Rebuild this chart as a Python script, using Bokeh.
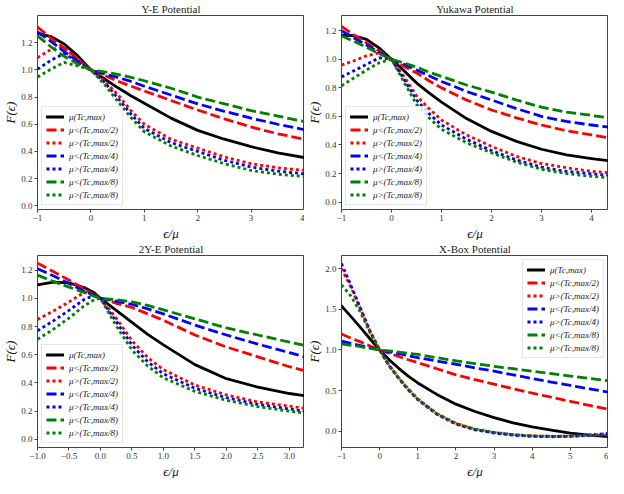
from bokeh.plotting import figure
from bokeh.layouts import column, row
from bokeh.models import Legend, LegendItem, FixedTicker, CustomJSTickFormatter, Range1d, Title
from bokeh.embed import file_html
from bokeh.resources import INLINE

LABELS = ["μ(Tc,max)", "μ<(Tc,max/2)", "μ>(Tc,max/2)", "μ<(Tc,max/4)",
          "μ>(Tc,max/4)", "μ<(Tc,max/8)", "μ>(Tc,max/8)"]
COLORS = ["black", "#ff0000", "#ff0000", "#0000ff", "#0000ff", "#008000", "#008000"]
DASHES = ["solid", "10 4", "3 3", "10 4", "3 3", "10 4", "3 3"]

# ---- Y-E Potential ----
ye_x = [-1, -0.75, -0.5, -0.25, 0, 0.25, 0.5, 0.75, 1, 1.5, 2, 2.5, 3, 3.5, 4]
ye_mu = [1.27, 1.245, 1.19, 1.105, 1.0, 0.935, 0.87, 0.81, 0.755, 0.645, 0.555, 0.49, 0.435, 0.39, 0.355]
ye_lt2 = [1.315, 1.235, 1.16, 1.08, 1.0, 0.96, 0.918, 0.88, 0.845, 0.775, 0.705, 0.64, 0.58, 0.53, 0.49]
ye_gt2 = [1.09, 1.15, 1.165, 1.08, 1.0, 0.92, 0.82, 0.70, 0.60, 0.49, 0.425, 0.36, 0.31, 0.28, 0.26]
ye_lt4 = [1.28, 1.21, 1.135, 1.065, 1.0, 0.97, 0.945, 0.915, 0.88, 0.815, 0.75, 0.695, 0.645, 0.60, 0.56]
ye_gt4 = [1.005, 1.07, 1.12, 1.06, 1.0, 0.91, 0.795, 0.675, 0.57, 0.465, 0.40, 0.335, 0.285, 0.255, 0.235]
ye_lt8 = [1.25, 1.17, 1.10, 1.045, 1.0, 0.985, 0.967, 0.945, 0.92, 0.865, 0.80, 0.75, 0.70, 0.66, 0.62]
ye_gt8 = [0.948, 1.005, 1.055, 1.03, 1.0, 0.895, 0.77, 0.65, 0.545, 0.44, 0.37, 0.31, 0.26, 0.233, 0.215]

# ---- Yukawa Potential ----
yk_x = [-1, -0.75, -0.5, -0.25, 0, 0.25, 0.5, 0.75, 1, 1.5, 2, 2.5, 3, 3.5, 4, 4.35]
yk_mu = [1.17, 1.165, 1.14, 1.08, 1.0, 0.92, 0.835, 0.765, 0.70, 0.585, 0.495, 0.425, 0.37, 0.33, 0.305, 0.29]
yk_lt2 = [1.23, 1.17, 1.115, 1.06, 1.0, 0.95, 0.905, 0.85, 0.80, 0.715, 0.645, 0.59, 0.54, 0.50, 0.47, 0.45]
yk_gt2 = [0.96, 0.99, 1.025, 1.045, 1.0, 0.88, 0.745, 0.655, 0.575, 0.47, 0.39, 0.32, 0.27, 0.24, 0.215, 0.205]
yk_lt4 = [1.20, 1.15, 1.10, 1.05, 1.0, 0.965, 0.925, 0.885, 0.845, 0.775, 0.715, 0.655, 0.60, 0.565, 0.54, 0.525]
yk_gt4 = [0.877, 0.92, 0.965, 1.01, 1.0, 0.86, 0.715, 0.62, 0.54, 0.44, 0.36, 0.295, 0.245, 0.215, 0.198, 0.187]
yk_lt8 = [1.165, 1.125, 1.085, 1.04, 1.0, 0.975, 0.945, 0.91, 0.88, 0.82, 0.77, 0.715, 0.665, 0.63, 0.607, 0.59]
yk_gt8 = [0.815, 0.87, 0.925, 0.975, 1.0, 0.84, 0.685, 0.59, 0.51, 0.415, 0.345, 0.28, 0.23, 0.20, 0.18, 0.17]

# ---- 2Y-E Potential ----
ty_x = [-1, -0.75, -0.5, -0.25, -0.1, 0, 0.25, 0.5, 0.75, 1, 1.5, 2, 2.5, 3, 3.24]
ty_mu = [1.095, 1.115, 1.11, 1.075, 1.04, 1.0, 0.915, 0.83, 0.745, 0.67, 0.53, 0.43, 0.37, 0.325, 0.31]
ty_lt2 = [1.25, 1.19, 1.13, 1.065, 1.025, 1.0, 0.965, 0.935, 0.89, 0.845, 0.74, 0.655, 0.585, 0.515, 0.487]
ty_gt2 = [0.85, 0.91, 0.975, 1.045, 1.03, 1.0, 0.86, 0.70, 0.58, 0.494, 0.385, 0.315, 0.265, 0.235, 0.22]
ty_lt4 = [1.21, 1.16, 1.105, 1.05, 1.02, 1.0, 0.98, 0.957, 0.925, 0.89, 0.81, 0.74, 0.675, 0.615, 0.585]
ty_gt4 = [0.77, 0.84, 0.915, 0.995, 1.02, 1.0, 0.835, 0.668, 0.55, 0.464, 0.362, 0.295, 0.248, 0.215, 0.20]
ty_lt8 = [1.165, 1.12, 1.08, 1.04, 1.015, 1.0, 0.99, 0.975, 0.95, 0.918, 0.855, 0.79, 0.74, 0.69, 0.667]
ty_gt8 = [0.71, 0.78, 0.86, 0.95, 0.99, 1.0, 0.805, 0.633, 0.52, 0.436, 0.34, 0.277, 0.232, 0.20, 0.186]

# ---- X-Box Potential ----
xb_x = [-1, -0.75, -0.5, -0.25, 0, 0.25, 0.5, 0.75, 1, 1.5, 2, 2.5, 3, 3.5, 4, 4.5, 5, 5.5, 6]
xb_mu = [1.54, 1.41, 1.275, 1.135, 1.0, 0.88, 0.775, 0.68, 0.595, 0.455, 0.335, 0.245, 0.17, 0.105, 0.055, 0.015, -0.02, -0.045, -0.065]
xb_lt2 = [1.196, 1.145, 1.10, 1.05, 1.0, 0.96, 0.92, 0.88, 0.845, 0.77, 0.695, 0.635, 0.58, 0.525, 0.47, 0.42, 0.37, 0.32, 0.273]
xb_gt2 = [2.00, 1.77, 1.50, 1.225, 1.0, 0.81, 0.655, 0.515, 0.395, 0.215, 0.095, 0.025, -0.015, -0.04, -0.055, -0.06, -0.058, -0.05, -0.04]
xb_lt4 = [1.108, 1.08, 1.055, 1.027, 1.0, 0.978, 0.955, 0.93, 0.905, 0.865, 0.825, 0.78, 0.74, 0.695, 0.65, 0.607, 0.565, 0.523, 0.482]
xb_gt4 = [2.06, 1.79, 1.51, 1.23, 1.0, 0.805, 0.65, 0.51, 0.39, 0.21, 0.09, 0.02, -0.02, -0.045, -0.06, -0.065, -0.06, -0.045, -0.025]
xb_lt8 = [1.076, 1.057, 1.04, 1.02, 1.0, 0.988, 0.975, 0.96, 0.945, 0.905, 0.867, 0.833, 0.80, 0.77, 0.74, 0.71, 0.68, 0.65, 0.622]
xb_gt8 = [1.80, 1.66, 1.46, 1.21, 1.0, 0.815, 0.66, 0.525, 0.40, 0.22, 0.10, 0.03, -0.01, -0.04, -0.055, -0.06, -0.058, -0.045, -0.03]

FONT = "Liberation Serif"


def fmt(d):
    return CustomJSTickFormatter(code="return tick.toFixed(%d).replace('-', '\u2212');" % d)


def panel(title, x, ys, xr, yr, xticks, xd, yticks, yd, loc, bl, h):
    p = figure(width=304, height=h, title=title,
               x_range=Range1d(*xr), y_range=Range1d(*yr),
               output_backend="svg", toolbar_location=None,
               min_border_left=bl, min_border_right=0,
               min_border_top=0, min_border_bottom=0)
    p.title.align = "center"
    p.title.text_font = FONT
    p.title.text_font_size = "11px"
    p.title.text_font_style = "normal"
    p.title.text_color = "#222222"
    p.title.standoff = 1
    p.title.offset = 0
    p.grid.visible = False
    p.outline_line_color = "#444444"
    p.outline_line_width = 1
    for ax in (p.xaxis[0], p.yaxis[0]):
        ax.axis_line_color = None
        ax.major_tick_out = 3
        ax.major_tick_in = 0
        ax.minor_tick_line_color = None
        ax.major_tick_line_color = "#444444"
        ax.major_label_text_font = FONT
        ax.major_label_text_font_size = "9px"
        ax.major_label_text_color = "#333333"
        ax.major_label_standoff = 2
    p.xaxis.ticker = FixedTicker(ticks=xticks)
    p.yaxis.ticker = FixedTicker(ticks=yticks)
    p.xaxis.formatter = fmt(xd)
    p.yaxis.formatter = fmt(yd)
    ya = p.yaxis[0]
    ya.axis_label = "F(ϵ)"
    ya.axis_label_text_font = FONT
    ya.axis_label_text_font_size = "13px"
    ya.axis_label_text_font_style = "italic"
    ya.axis_label_text_color = "#111111"
    ya.axis_label_standoff = 0
    xl = Title(text="ϵ/μ", align="center", text_font=FONT, text_font_size="13px",
               text_font_style="italic", text_color="#111111", standoff=0, offset=0)
    p.add_layout(xl, "below")
    items = []
    for lab, col, dash, y in zip(LABELS, COLORS, DASHES, ys):
        r = p.line(x, y, line_color=col, line_width=2.8, line_dash=dash,
                   line_cap="butt" if dash != "solid" else "round",
                   line_join="round")
        items.append(LegendItem(label=lab, renderers=[r]))
    lg = Legend(items=items, location=loc)
    lg.label_text_font = FONT
    lg.label_text_font_size = "9px"
    lg.label_text_font_style = "italic"
    lg.label_text_color = "#222222"
    lg.glyph_width = 18
    lg.glyph_height = 11
    lg.label_height = 11
    lg.label_standoff = 5
    lg.spacing = 2
    lg.padding = 4
    lg.margin = 4
    lg.border_line_color = "#cccccc"
    lg.background_fill_alpha = 0.85
    p.add_layout(lg)
    return p


yt12 = [0.0, 0.2, 0.4, 0.6, 0.8, 1.0, 1.2]
p1 = panel("Y-E Potential", ye_x, [ye_mu, ye_lt2, ye_gt2, ye_lt4, ye_gt4, ye_lt8, ye_gt8],
           (-1, 4), (-0.027, 1.40), [-1, 0, 1, 2, 3, 4], 0, yt12, 1, "bottom_left", 26, 240)
p2 = panel("Yukawa Potential", yk_x, [yk_mu, yk_lt2, yk_gt2, yk_lt4, yk_gt4, yk_lt8, yk_gt8],
           (-1, 4.34), (-0.052, 1.307), [-1, 0, 1, 2, 3, 4], 0, yt12, 1, "bottom_left", 34, 240)
p3 = panel("2Y-E Potential", ty_x, [ty_mu, ty_lt2, ty_gt2, ty_lt4, ty_gt4, ty_lt8, ty_gt8],
           (-1, 3.24), (-0.058, 1.304), [-1.0, -0.5, 0.0, 0.5, 1.0, 1.5, 2.0, 2.5, 3.0], 1, yt12, 1,
           "bottom_left", 26, 238)
p4 = panel("X-Box Potential", xb_x, [xb_mu, xb_lt2, xb_gt2, xb_lt4, xb_gt4, xb_lt8, xb_gt8],
           (-1, 6), (-0.197, 2.16), [-1, 0, 1, 2, 3, 4, 5, 6], 0, [0.0, 0.5, 1.0, 1.5, 2.0], 1,
           "top_right", 34, 238)

layout = column(row(p1, p2), row(p3, p4))
open("out.html", "w").write(file_html(layout, INLINE))
